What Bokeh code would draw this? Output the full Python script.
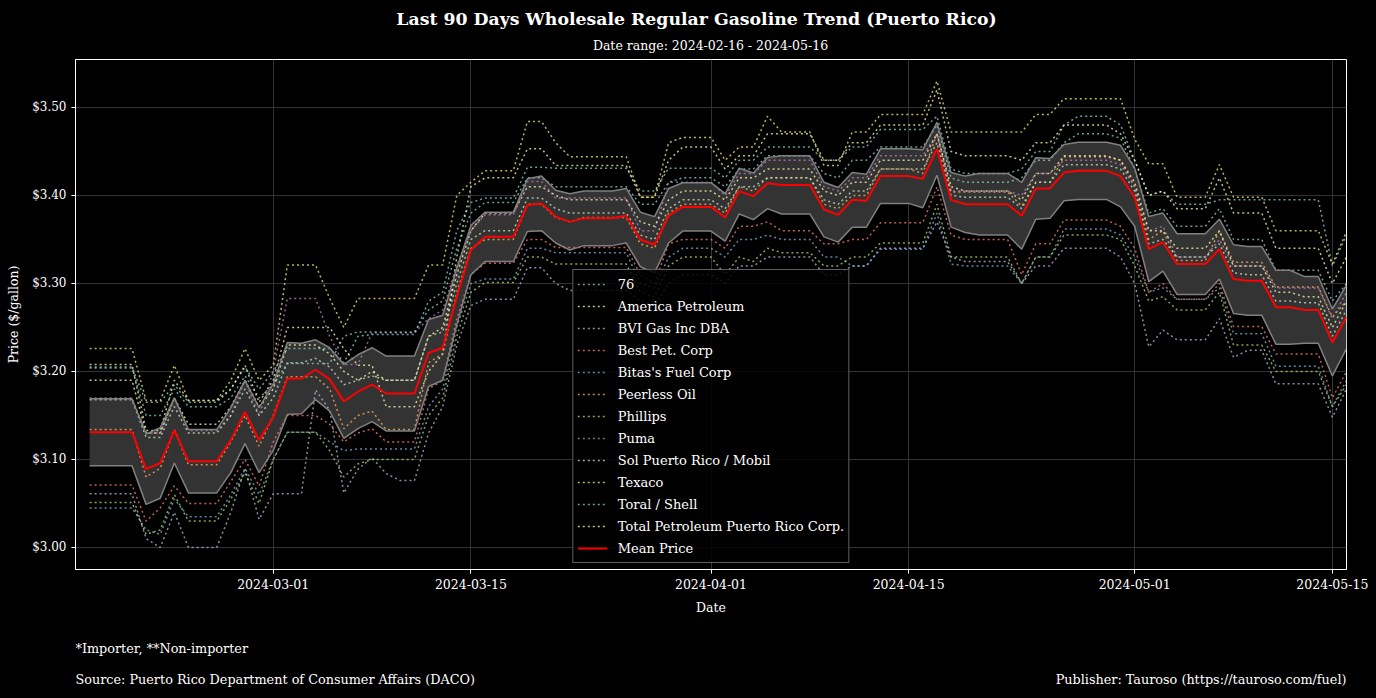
import pandas as pd
from datetime import datetime
from bokeh.plotting import figure
from bokeh.layouts import column
from bokeh.models import (Legend, LegendItem, Label, FixedTicker, DatetimeTickFormatter,
                          PrintfTickFormatter, Range1d)
from bokeh.embed import file_html
from bokeh.resources import INLINE

FONT = "DejaVu Serif"

dates = pd.date_range("2024-02-17", "2024-05-16", freq="D")

mean_price = [
    3.131, 3.131, 3.131, 3.131, 3.089, 3.096, 3.133, 3.098, 3.098, 3.098,
    3.122, 3.154, 3.122, 3.148, 3.192, 3.192, 3.202, 3.191, 3.166, 3.177,
    3.185, 3.175, 3.175, 3.175, 3.221, 3.227, 3.285, 3.338, 3.353, 3.353,
    3.353, 3.389, 3.391, 3.376, 3.370, 3.374, 3.374, 3.374, 3.377, 3.350,
    3.344, 3.377, 3.387, 3.387, 3.387, 3.375, 3.405, 3.399, 3.414, 3.412,
    3.412, 3.412, 3.384, 3.378, 3.395, 3.394, 3.422, 3.422, 3.422, 3.419,
    3.453, 3.395, 3.390, 3.390, 3.390, 3.390, 3.377, 3.408, 3.408, 3.426,
    3.428, 3.428, 3.428, 3.422, 3.398, 3.339, 3.347, 3.322, 3.322, 3.322,
    3.339, 3.305, 3.303, 3.303, 3.273, 3.273, 3.270, 3.270, 3.233, 3.262]

std_price = [
    0.038, 0.038, 0.038, 0.038, 0.040, 0.040, 0.037, 0.036, 0.036, 0.036,
    0.037, 0.036, 0.037, 0.038, 0.041, 0.040, 0.034, 0.036, 0.042, 0.042,
    0.042, 0.0425, 0.0425, 0.0425, 0.038, 0.037, 0.032, 0.028, 0.028, 0.028,
    0.028, 0.030, 0.031, 0.030, 0.032, 0.031, 0.031, 0.031, 0.031, 0.031,
    0.032, 0.031, 0.0275, 0.0275, 0.0275, 0.027, 0.026, 0.0265, 0.029, 0.033,
    0.033, 0.033, 0.031, 0.031, 0.031, 0.030, 0.031, 0.031, 0.031, 0.033,
    0.030, 0.031, 0.032, 0.035, 0.035, 0.035, 0.038, 0.035, 0.034, 0.032,
    0.0325, 0.0325, 0.0325, 0.035, 0.033, 0.037, 0.033, 0.0345, 0.0345, 0.0345,
    0.034, 0.039, 0.039, 0.039, 0.042, 0.042, 0.038, 0.038, 0.038, 0.036]

s_76 = [
    3.205, 3.205, 3.205, 3.205, 3.165, 3.165, 3.185, 3.165, 3.165, 3.165,
    3.180, 3.205, 3.180, 3.200, 3.226, 3.226, 3.226, 3.226, 3.210, 3.240,
    3.242, 3.242, 3.242, 3.242, 3.280, 3.290, 3.360, 3.392, 3.397, 3.397,
    3.397, 3.432, 3.432, 3.431, 3.431, 3.431, 3.431, 3.431, 3.431, 3.405,
    3.405, 3.431, 3.431, 3.431, 3.431, 3.420, 3.440, 3.440, 3.455, 3.455,
    3.455, 3.455, 3.440, 3.440, 3.455, 3.455, 3.475, 3.475, 3.475, 3.475,
    3.490, 3.430, 3.425, 3.425, 3.425, 3.425, 3.430, 3.450, 3.450, 3.480,
    3.490, 3.490, 3.490, 3.480, 3.440, 3.400, 3.405, 3.390, 3.390, 3.390,
    3.395, 3.395, 3.395, 3.395, 3.395, 3.395, 3.395, 3.395, 3.320, 3.355]

s_america = [
    3.208, 3.208, 3.208, 3.208, 3.133, 3.133, 3.190, 3.167, 3.167, 3.167,
    3.180, 3.207, 3.165, 3.190, 3.250, 3.250, 3.250, 3.250, 3.226, 3.207,
    3.207, 3.160, 3.160, 3.160, 3.200, 3.220, 3.330, 3.410, 3.420, 3.420,
    3.420, 3.453, 3.453, 3.434, 3.434, 3.434, 3.434, 3.434, 3.434, 3.398,
    3.398, 3.440, 3.455, 3.455, 3.455, 3.430, 3.445, 3.445, 3.470, 3.470,
    3.470, 3.470, 3.440, 3.440, 3.460, 3.460, 3.480, 3.480, 3.480, 3.480,
    3.520, 3.450, 3.445, 3.445, 3.445, 3.445, 3.440, 3.460, 3.460, 3.480,
    3.480, 3.480, 3.480, 3.470, 3.440, 3.400, 3.405, 3.385, 3.385, 3.385,
    3.420, 3.380, 3.380, 3.380, 3.340, 3.340, 3.340, 3.340, 3.300, 3.330]

s_bvi = [
    3.061, 3.061, 3.061, 3.061, 3.010, 3.000, 3.040, 3.000, 3.000, 3.000,
    3.040, 3.090, 3.032, 3.061, 3.061, 3.061, 3.179, 3.156, 3.062, 3.089,
    3.102, 3.084, 3.076, 3.076, 3.130, 3.160, 3.230, 3.275, 3.282, 3.282,
    3.282, 3.318, 3.318, 3.300, 3.292, 3.292, 3.292, 3.292, 3.292, 3.280,
    3.275, 3.300, 3.310, 3.310, 3.310, 3.300, 3.320, 3.320, 3.330, 3.330,
    3.330, 3.330, 3.310, 3.310, 3.320, 3.320, 3.340, 3.340, 3.340, 3.340,
    3.370, 3.330, 3.325, 3.325, 3.325, 3.325, 3.300, 3.320, 3.320, 3.340,
    3.340, 3.340, 3.340, 3.330, 3.300, 3.228, 3.247, 3.236, 3.236, 3.236,
    3.260, 3.216, 3.224, 3.224, 3.186, 3.186, 3.186, 3.186, 3.148, 3.180]

s_best = [
    3.071, 3.071, 3.071, 3.071, 3.030, 3.045, 3.070, 3.050, 3.050, 3.050,
    3.075, 3.100, 3.070, 3.120, 3.150, 3.150, 3.150, 3.140, 3.120, 3.130,
    3.135, 3.120, 3.120, 3.120, 3.180, 3.190, 3.260, 3.310, 3.323, 3.323,
    3.323, 3.350, 3.350, 3.341, 3.341, 3.341, 3.341, 3.341, 3.341, 3.310,
    3.300, 3.345, 3.350, 3.350, 3.350, 3.340, 3.365, 3.365, 3.370, 3.360,
    3.360, 3.360, 3.345, 3.345, 3.350, 3.350, 3.369, 3.369, 3.369, 3.369,
    3.410, 3.355, 3.350, 3.350, 3.350, 3.350, 3.310, 3.345, 3.345, 3.372,
    3.372, 3.372, 3.372, 3.365, 3.340, 3.290, 3.300, 3.282, 3.282, 3.282,
    3.300, 3.251, 3.251, 3.251, 3.220, 3.220, 3.220, 3.220, 3.170, 3.200]

s_bitas = [
    3.045, 3.045, 3.045, 3.045, 3.020, 3.015, 3.055, 3.035, 3.035, 3.035,
    3.060, 3.090, 3.060, 3.100, 3.131, 3.131, 3.131, 3.120, 3.110, 3.112,
    3.112, 3.112, 3.112, 3.112, 3.160, 3.180, 3.250, 3.300, 3.305, 3.305,
    3.305, 3.340, 3.340, 3.335, 3.335, 3.335, 3.335, 3.335, 3.335, 3.300,
    3.295, 3.330, 3.340, 3.340, 3.340, 3.330, 3.350, 3.350, 3.355, 3.350,
    3.350, 3.350, 3.330, 3.330, 3.320, 3.320, 3.339, 3.339, 3.339, 3.339,
    3.380, 3.322, 3.320, 3.320, 3.320, 3.320, 3.300, 3.330, 3.330, 3.362,
    3.362, 3.362, 3.362, 3.355, 3.330, 3.290, 3.295, 3.282, 3.282, 3.282,
    3.295, 3.243, 3.243, 3.243, 3.206, 3.206, 3.206, 3.206, 3.160, 3.190]

s_peerless = [
    3.134, 3.134, 3.134, 3.134, 3.080, 3.090, 3.134, 3.094, 3.094, 3.094,
    3.120, 3.150, 3.115, 3.150, 3.194, 3.194, 3.194, 3.180, 3.135, 3.150,
    3.155, 3.134, 3.134, 3.134, 3.210, 3.220, 3.290, 3.340, 3.350, 3.350,
    3.350, 3.390, 3.390, 3.375, 3.370, 3.375, 3.375, 3.375, 3.375, 3.345,
    3.340, 3.380, 3.390, 3.390, 3.390, 3.380, 3.410, 3.405, 3.420, 3.420,
    3.420, 3.420, 3.390, 3.385, 3.400, 3.400, 3.430, 3.430, 3.430, 3.425,
    3.470, 3.404, 3.404, 3.404, 3.404, 3.404, 3.388, 3.415, 3.415, 3.444,
    3.444, 3.444, 3.444, 3.440, 3.410, 3.350, 3.360, 3.326, 3.326, 3.326,
    3.360, 3.324, 3.324, 3.324, 3.296, 3.296, 3.296, 3.296, 3.262, 3.280]

s_phillips = [
    3.051, 3.051, 3.051, 3.051, 3.015, 3.020, 3.060, 3.030, 3.030, 3.030,
    3.055, 3.085, 3.050, 3.100, 3.131, 3.131, 3.131, 3.110, 3.080, 3.095,
    3.100, 3.100, 3.100, 3.100, 3.150, 3.170, 3.240, 3.290, 3.301, 3.301,
    3.301, 3.330, 3.330, 3.322, 3.322, 3.322, 3.322, 3.322, 3.322, 3.290,
    3.285, 3.320, 3.330, 3.330, 3.330, 3.310, 3.330, 3.325, 3.340, 3.335,
    3.335, 3.335, 3.320, 3.320, 3.330, 3.330, 3.346, 3.346, 3.346, 3.346,
    3.390, 3.330, 3.330, 3.330, 3.330, 3.330, 3.300, 3.330, 3.330, 3.355,
    3.355, 3.355, 3.355, 3.350, 3.320, 3.280, 3.285, 3.270, 3.270, 3.270,
    3.290, 3.230, 3.230, 3.230, 3.200, 3.200, 3.200, 3.200, 3.160, 3.185]

s_puma = [
    3.170, 3.170, 3.170, 3.170, 3.130, 3.130, 3.170, 3.133, 3.133, 3.133,
    3.150, 3.190, 3.150, 3.200, 3.283, 3.283, 3.283, 3.240, 3.208, 3.208,
    3.244, 3.244, 3.244, 3.244, 3.260, 3.270, 3.320, 3.360, 3.378, 3.378,
    3.378, 3.416, 3.416, 3.397, 3.397, 3.397, 3.397, 3.397, 3.397, 3.360,
    3.360, 3.415, 3.415, 3.415, 3.415, 3.400, 3.425, 3.425, 3.440, 3.440,
    3.440, 3.440, 3.410, 3.405, 3.420, 3.420, 3.445, 3.445, 3.445, 3.445,
    3.470, 3.405, 3.405, 3.405, 3.405, 3.405, 3.400, 3.425, 3.425, 3.440,
    3.440, 3.440, 3.440, 3.435, 3.410, 3.360, 3.365, 3.330, 3.330, 3.330,
    3.350, 3.320, 3.320, 3.320, 3.295, 3.295, 3.295, 3.295, 3.260, 3.290]

s_sol = [
    3.168, 3.168, 3.168, 3.168, 3.125, 3.125, 3.160, 3.130, 3.130, 3.130,
    3.150, 3.180, 3.150, 3.170, 3.210, 3.210, 3.215, 3.205, 3.185, 3.190,
    3.195, 3.190, 3.190, 3.190, 3.240, 3.245, 3.300, 3.350, 3.360, 3.360,
    3.360, 3.397, 3.397, 3.385, 3.380, 3.380, 3.380, 3.380, 3.380, 3.355,
    3.350, 3.385, 3.395, 3.395, 3.395, 3.385, 3.410, 3.410, 3.420, 3.420,
    3.420, 3.420, 3.395, 3.390, 3.405, 3.405, 3.430, 3.430, 3.430, 3.430,
    3.460, 3.400, 3.398, 3.398, 3.398, 3.398, 3.385, 3.415, 3.415, 3.435,
    3.435, 3.435, 3.435, 3.430, 3.405, 3.345, 3.350, 3.330, 3.330, 3.330,
    3.345, 3.312, 3.310, 3.310, 3.280, 3.280, 3.278, 3.278, 3.240, 3.270]

s_texaco = [
    3.226, 3.226, 3.226, 3.226, 3.167, 3.167, 3.207, 3.167, 3.167, 3.167,
    3.190, 3.226, 3.190, 3.207, 3.321, 3.321, 3.321, 3.283, 3.250, 3.283,
    3.283, 3.283, 3.283, 3.283, 3.321, 3.321, 3.400, 3.415, 3.428, 3.428,
    3.428, 3.484, 3.484, 3.460, 3.444, 3.444, 3.444, 3.444, 3.444, 3.398,
    3.398, 3.460, 3.466, 3.466, 3.466, 3.440, 3.455, 3.455, 3.490, 3.472,
    3.472, 3.472, 3.434, 3.434, 3.472, 3.472, 3.492, 3.492, 3.492, 3.492,
    3.530, 3.472, 3.472, 3.472, 3.472, 3.472, 3.472, 3.492, 3.492, 3.510,
    3.510, 3.510, 3.510, 3.510, 3.464, 3.436, 3.436, 3.398, 3.398, 3.398,
    3.435, 3.398, 3.398, 3.398, 3.360, 3.360, 3.360, 3.360, 3.322, 3.359]

s_toral = [
    3.204, 3.204, 3.204, 3.204, 3.150, 3.150, 3.180, 3.160, 3.160, 3.160,
    3.170, 3.195, 3.170, 3.185, 3.209, 3.209, 3.209, 3.209, 3.240, 3.245,
    3.245, 3.245, 3.245, 3.245, 3.270, 3.280, 3.340, 3.380, 3.392, 3.392,
    3.392, 3.420, 3.420, 3.410, 3.410, 3.410, 3.410, 3.410, 3.410, 3.390,
    3.390, 3.415, 3.420, 3.420, 3.420, 3.410, 3.430, 3.430, 3.445, 3.445,
    3.445, 3.445, 3.425, 3.420, 3.440, 3.440, 3.455, 3.455, 3.455, 3.455,
    3.480, 3.420, 3.415, 3.415, 3.415, 3.415, 3.420, 3.440, 3.440, 3.460,
    3.470, 3.470, 3.470, 3.465, 3.430, 3.380, 3.385, 3.365, 3.365, 3.365,
    3.385, 3.350, 3.350, 3.350, 3.315, 3.315, 3.315, 3.315, 3.280, 3.300]

s_total = [
    3.190, 3.190, 3.190, 3.190, 3.130, 3.130, 3.170, 3.140, 3.140, 3.140,
    3.160, 3.190, 3.160, 3.180, 3.230, 3.230, 3.230, 3.220, 3.200, 3.190,
    3.200, 3.190, 3.190, 3.190, 3.240, 3.250, 3.310, 3.360, 3.380, 3.380,
    3.380, 3.410, 3.410, 3.400, 3.395, 3.395, 3.395, 3.395, 3.395, 3.370,
    3.365, 3.395, 3.405, 3.405, 3.405, 3.395, 3.420, 3.420, 3.430, 3.430,
    3.430, 3.430, 3.405, 3.400, 3.415, 3.415, 3.440, 3.440, 3.440, 3.440,
    3.470, 3.410, 3.405, 3.405, 3.405, 3.405, 3.395, 3.425, 3.425, 3.445,
    3.445, 3.445, 3.445, 3.440, 3.415, 3.360, 3.360, 3.340, 3.340, 3.340,
    3.360, 3.320, 3.320, 3.320, 3.290, 3.290, 3.285, 3.285, 3.250, 3.280]

company_names = ["76", "America Petroleum", "BVI Gas Inc DBA", "Best Pet. Corp",
                 "Bitas's Fuel Corp", "Peerless Oil", "Phillips", "Puma",
                 "Sol Puerto Rico / Mobil", "Texaco", "Toral / Shell",
                 "Total Petroleum Puerto Rico Corp."]
company_values = [s_76, s_america, s_bvi, s_best, s_bitas, s_peerless, s_phillips,
                  s_puma, s_sol, s_texaco, s_toral, s_total]
palette = ["#8dd3c7", "#ffffb3", "#bebada", "#fb8072", "#80b1d3", "#fdb462",
           "#b3de69", "#bc80bd", "#ccebc5", "#ffed6f", "#8dd3c7", "#ffffb3"]

x_ticks = ["2024-03-01", "2024-03-15", "2024-04-01", "2024-04-15", "2024-05-01", "2024-05-15"]
y_ticks = [3.0, 3.1, 3.2, 3.3, 3.4, 3.5]

title_text = "Last 90 Days Wholesale Regular Gasoline Trend (Puerto Rico)"
subtitle_text = "Date range: 2024-02-16 - 2024-05-16"
note_text = "*Importer, **Non-importer"
source_text = "Source: Puerto Rico Department of Consumer Affairs (DACO)"
publisher_text = "Publisher: Tauroso (https://tauroso.com/fuel)"

lower = [m - s for m, s in zip(mean_price, std_price)]
upper = [m + s for m, s in zip(mean_price, std_price)]

W = 1376
FRAME_L, FRAME_R = 75, 1346   # page x of the plotting frame (strips share it)


def text_strip(height):
    f = figure(width=W, height=height, output_backend="svg", toolbar_location=None,
               x_range=Range1d(FRAME_L, FRAME_R), y_range=Range1d(0, height),
               x_axis_location=None, y_axis_location=None,
               min_border_left=FRAME_L, min_border_right=W - FRAME_R,
               min_border_top=0, min_border_bottom=0)
    f.title = None
    f.grid.visible = False
    f.outline_line_color = None
    f.background_fill_color = "black"
    f.border_fill_color = "black"
    return f


# header
head = text_strip(54)
head.add_layout(Label(x=696, y=36, text=title_text, text_align="center",
                      text_baseline="middle", text_color="white", text_font=FONT,
                      text_font_size="17.3px", text_font_style="bold"))
head.add_layout(Label(x=710, y=9, text=subtitle_text, text_align="center",
                      text_baseline="middle", text_color="white", text_font=FONT,
                      text_font_size="12.5px"))

# main chart
p = figure(width=W, height=576, x_axis_type="datetime", output_backend="svg",
           toolbar_location=None,
           x_range=Range1d(start=datetime(2024, 2, 16), end=datetime(2024, 5, 16)),
           y_range=Range1d(2.975, 3.5545),
           min_border_left=FRAME_L, min_border_right=W - FRAME_R,
           min_border_top=5, min_border_bottom=61)
p.title = None
p.background_fill_color = "black"
p.border_fill_color = "black"
p.outline_line_color = "white"
p.outline_line_width = 1

p.varea(x=dates, y1=lower, y2=upper, fill_color="#333333", fill_alpha=1.0)

items = []
for name, vals, col in zip(company_names, company_values, palette):
    r = p.line(x=dates, y=vals, line_color=col, line_dash="2 3", line_width=1.5, line_alpha=0.75)
    items.append(LegendItem(label=name, renderers=[r]))

p.line(x=dates, y=upper, line_color="#808080", line_width=1.5)
p.line(x=dates, y=lower, line_color="#808080", line_width=1.5)
rm = p.line(x=dates, y=mean_price, line_color="red", line_width=2)
items.append(LegendItem(label="Mean Price", renderers=[rm]))

legend = Legend(items=items, location="bottom_center")
legend.background_fill_color = "black"
legend.background_fill_alpha = 0.85
legend.border_line_color = "#bbbbbb"
legend.border_line_width = 1
legend.label_text_color = "white"
legend.label_text_font = FONT
legend.label_text_font_size = "13px"
legend.glyph_width = 30
legend.glyph_height = 20
legend.label_height = 20
legend.spacing = 2
legend.padding = 4
legend.margin = 6
legend.label_standoff = 11
p.add_layout(legend)

tick_ms = [pd.Timestamp(t).value / 1e6 for t in x_ticks]
p.xaxis.ticker = FixedTicker(ticks=tick_ms)
fmt = "%Y-%m-%d"
p.xaxis.formatter = DatetimeTickFormatter(days=fmt, months=fmt, years=fmt, hours=fmt,
                                          hourmin=fmt, minutes=fmt, minsec=fmt,
                                          seconds=fmt, milliseconds=fmt, microseconds=fmt)
p.yaxis.ticker = FixedTicker(ticks=y_ticks)
p.yaxis.formatter = PrintfTickFormatter(format="$%.2f")

for ax in (p.xaxis, p.yaxis):
    ax.axis_line_color = "white"
    ax.major_tick_line_color = "white"
    ax.major_tick_out = 4
    ax.major_tick_in = 0
    ax.minor_tick_line_color = None
    ax.major_label_text_color = "white"
    ax.major_label_text_font = FONT
    ax.major_label_text_font_size = "12.5px"
    ax.axis_label_text_color = "white"
    ax.axis_label_text_font = FONT
    ax.axis_label_text_font_size = "12.5px"
    ax.axis_label_text_font_style = "normal"
p.yaxis.major_label_text_font_size = "12px"
p.xaxis.axis_label = "Date"
p.yaxis.axis_label = "Price ($/gallon)"
p.xaxis.axis_label_standoff = 8
p.yaxis.axis_label_standoff = 8

p.xgrid.grid_line_color = "#333333"
p.ygrid.grid_line_color = "#333333"

# footer
foot = text_strip(68)
foot.add_layout(Label(x=FRAME_L, y=50, text=note_text, text_align="left",
                      text_baseline="middle", text_color="white", text_font=FONT,
                      text_font_size="12.8px"))
foot.add_layout(Label(x=FRAME_L, y=19, text=source_text, text_align="left",
                      text_baseline="middle", text_color="white", text_font=FONT,
                      text_font_size="12.8px"))
foot.add_layout(Label(x=FRAME_R, y=19, text=publisher_text, text_align="right",
                      text_baseline="middle", text_color="white", text_font=FONT,
                      text_font_size="12.8px"))

layout = column(head, p, foot, spacing=0)

html = file_html(layout, INLINE)
html = html.replace("<head>", "<head><style>body{background:#000000;}</style>", 1)
open("out.html", "w").write(html)
